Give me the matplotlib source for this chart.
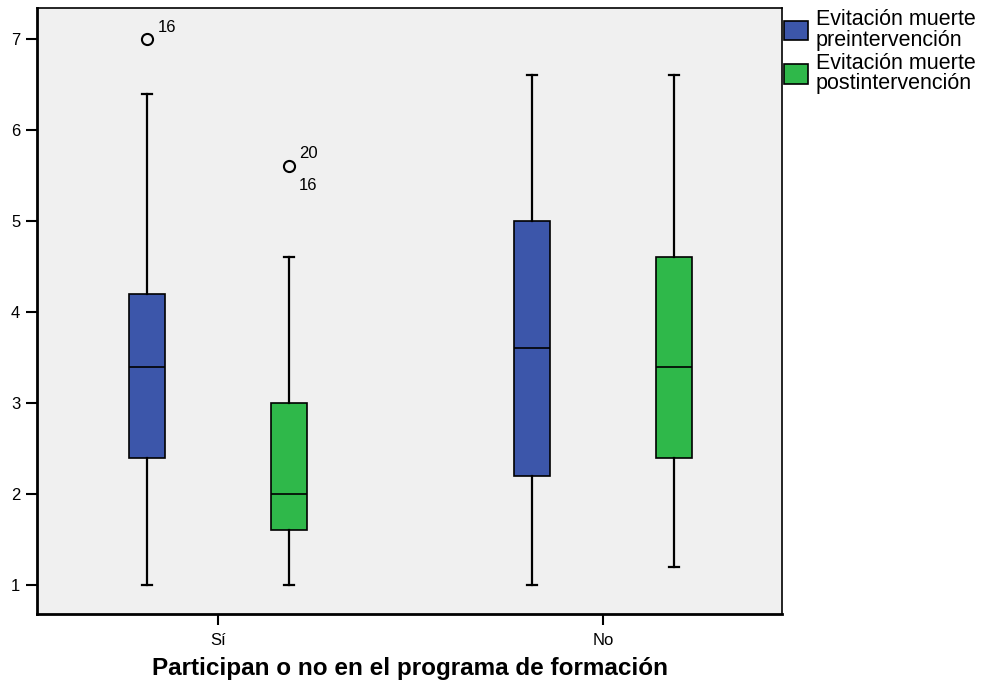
import matplotlib
matplotlib.use("Agg")
import matplotlib.pyplot as plt
from matplotlib.patches import Patch

plt.rcParams['font.family'] = ['Liberation Sans', 'DejaVu Sans']

groups = ["Sí", "No"]
series = ["Evitación muerte\npreintervención", "Evitación muerte\npostintervención"]
colors = ["#3c56aa", "#2fb84a"]

# stats per group, per series: (whislo, q1, med, q3, whishi)
pre_stats = [(1.0, 2.4, 3.4, 4.2, 6.4), (1.0, 2.2, 3.6, 5.0, 6.6)]
post_stats = [(1.0, 1.6, 2.0, 3.0, 4.6), (1.2, 2.4, 3.4, 4.6, 6.6)]
pre_outliers = [[7.0], []]
post_outliers = [[5.6], []]
pre_outlier_labels = [["16"], []]
post_outlier_labels = [[("20", "16")], []]

fig = plt.figure(figsize=(9.88, 6.81), dpi=100)
ax = fig.add_axes([37/988, 1-614/681, (782-37)/988, (614-8)/681])
ax.set_facecolor("#f0f0f0")

offset = 0.185
width = 0.0935
capw = 0.027

def mk(st, fl):
    return dict(whislo=st[0], q1=st[1], med=st[2], q3=st[3], whishi=st[4], fliers=fl)

for si, (stats, outs, col) in enumerate([(pre_stats, pre_outliers, colors[0]),
                                         (post_stats, post_outliers, colors[1])]):
    pos = [gi + (offset if si == 1 else -offset) for gi in range(len(groups))]
    bstats = [mk(stats[g], outs[g]) for g in range(len(groups))]
    ax.bxp(bstats, positions=pos, widths=width, capwidths=capw, patch_artist=True,
           showfliers=True,
           boxprops=dict(facecolor=col, edgecolor="black", linewidth=1.2),
           medianprops=dict(color="black", linewidth=1.2),
           whiskerprops=dict(color="black", linewidth=1.6),
           capprops=dict(color="black", linewidth=1.6),
           flierprops=dict(marker="o", markerfacecolor="none", markeredgecolor="black",
                           markersize=8, markeredgewidth=1.5))

# outlier labels
for g in range(len(groups)):
    for v, lab in zip(pre_outliers[g], pre_outlier_labels[g]):
        ax.annotate(lab, (g - offset, v), xytext=(8, 5), textcoords="offset points",
                    fontsize=12)
    for v, labs in zip(post_outliers[g], post_outlier_labels[g]):
        ax.annotate(labs[0], (g + offset, v), xytext=(7, 6), textcoords="offset points",
                    fontsize=12)
        ax.annotate(labs[1], (g + offset, v), xytext=(7, -8), textcoords="offset points",
                    fontsize=12, va="top")

ax.set_xlim((37-218)/385, (782-218)/385)
ax.set_ylim(1 - 29/91, 7 + 31/91)
ax.set_xticks(range(len(groups)))
ax.set_xticklabels(groups, fontsize=12)
ax.set_yticks(range(1, 8))
ax.set_yticklabels([str(i) for i in range(1, 8)], fontsize=12)
ax.tick_params(axis="both", length=8, width=1.5, color="black")
ax.tick_params(axis="x", pad=6)
ax.tick_params(axis="y", pad=4)
for s in ax.spines.values():
    s.set_linewidth(1.2)
ax.spines["bottom"].set_linewidth(2.0)
ax.spines["left"].set_linewidth(2.0)

ax.set_xlabel("Participan o no en el programa de formación", fontsize=17.5,
              fontweight="bold", labelpad=6)

handles = [Patch(facecolor=c, edgecolor="black", linewidth=1.2) for c in colors]
leg = fig.legend(handles, series, loc="upper left", bbox_to_anchor=(780/988, 1 - 5/681),
                 frameon=False, fontsize=15.5, handlelength=1.1, handleheight=1.0,
                 handletextpad=0.35, labelspacing=0.1, borderaxespad=0, borderpad=0.2)
for t in leg.get_texts():
    t.set_linespacing(0.95)

fig.savefig("out.png", dpi=100)
